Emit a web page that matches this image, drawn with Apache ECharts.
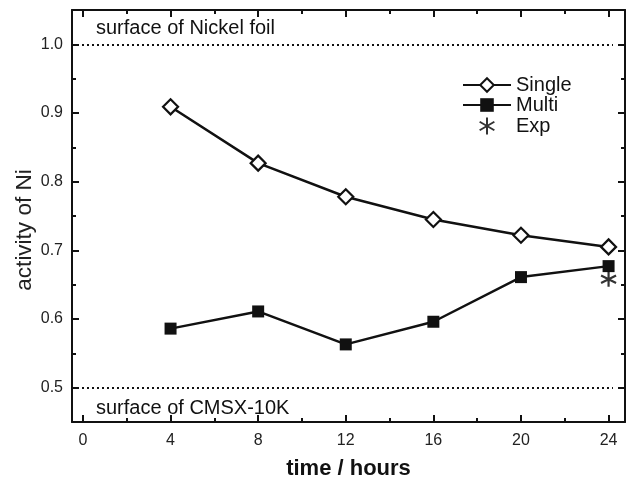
<!DOCTYPE html>
<html>
<head>
<meta charset="utf-8">
<script src="https://cdn.jsdelivr.net/npm/echarts@6/dist/echarts.min.js"></script>
<style>html,body{margin:0;padding:0;background:#fff}#c{width:628px;height:482px}</style>
</head>
<body>
<div id="c"></div>
<script>
var hours = [4, 8, 12, 16, 20, 24];
var singleVals = [0.909, 0.827, 0.778, 0.745, 0.722, 0.705];
var multiVals = [0.586, 0.611, 0.563, 0.596, 0.661, 0.677];
var expHours = [24];
var expVals = [0.658];
var xMajorTicks = [0, 4, 8, 12, 16, 20, 24];
var xMinorTicks = [2, 6, 10, 14, 18, 22];
var yMajorTicks = [0.5, 0.6, 0.7, 0.8, 0.9, 1.0];
var yMinorTicks = [0.55, 0.65, 0.75, 0.85, 0.95];
var refLevels = [1.0, 0.5];
var refLabels = ['surface of Nickel foil', 'surface of CMSX-10K'];
var yTitle = 'activity of Ni';
var xTitle = 'time / hours';

function zip(a, b) { return a.map(function (v, i) { return [v, b[i]]; }); }

var FONT = 'Liberation Sans, Arial, sans-serif';
var xMin = -0.5, xMax = 24.75, yMin = 0.45, yMax = 1.05;

function xAx(pos, vals, len, show, isMain) {
  return {
    type: 'value', position: pos, min: xMin, max: xMax,
    axisLine: { show: isMain, onZero: false, lineStyle: { color: '#111', width: 2 } },
    axisTick: { show: true, inside: true, length: len, customValues: vals, lineStyle: { color: '#111', width: 2 } },
    axisLabel: { show: show, customValues: vals, color: '#222', fontSize: 16, fontFamily: FONT, margin: 11 },
    splitLine: { show: false }
  };
}
function yAx(pos, vals, len, show, isMain) {
  return {
    type: 'value', position: pos, min: yMin, max: yMax,
    axisLine: { show: isMain, onZero: false, lineStyle: { color: '#111', width: 2 } },
    axisTick: { show: true, inside: true, length: len, customValues: vals, lineStyle: { color: '#111', width: 2 } },
    axisLabel: { show: show, customValues: vals, color: '#222', fontSize: 16, fontFamily: FONT, margin: 9,
      formatter: function (v) { return v.toFixed(1); } },
    splitLine: { show: false }
  };
}

var xAxes = [
  xAx('bottom', xMajorTicks, 7, true, true),
  xAx('bottom', xMinorTicks, 4, false, false),
  xAx('top', xMajorTicks, 7, false, true),
  xAx('top', xMinorTicks, 4, false, false)
];
xAxes[0].name = xTitle;
xAxes[0].nameLocation = 'middle';
xAxes[0].nameGap = 36;
xAxes[0].nameTextStyle = { fontSize: 22, fontWeight: 'bold', color: '#111', fontFamily: FONT };

var yAxes = [
  yAx('left', yMajorTicks, 7, true, true),
  yAx('left', yMinorTicks, 4, false, false),
  yAx('right', yMajorTicks, 7, false, true),
  yAx('right', yMinorTicks, 4, false, false)
];

var asterisk = 'path://M0,-10 L0,10 M-8.66,-5 L8.66,5 M-8.66,5 L8.66,-5';

var chart = echarts.init(document.getElementById('c'));
chart.setOption({
  animation: false,
  backgroundColor: '#fff',
  grid: { left: 72, right: 3, top: 10, bottom: 60, containLabel: false, outerBoundsMode: 'none' },
  xAxis: xAxes,
  yAxis: yAxes,
  legend: {
    orient: 'vertical', left: 457, top: 70,
    itemWidth: 48, itemHeight: 17, itemGap: 0,
    textStyle: { fontSize: 20, color: '#111', fontFamily: FONT, lineHeight: 20 },
    data: ['Single', 'Multi', 'Exp']
  },
  series: [
    {
      name: 'Single', type: 'line', data: zip(hours, singleVals),
      symbol: 'diamond', symbolSize: 15,
      lineStyle: { color: '#111', width: 2.5 },
      itemStyle: { color: '#fff', borderColor: '#111', borderWidth: 2.2 },
      z: 3,
      markLine: {
        silent: true, symbol: 'none', animation: false,
        lineStyle: { color: '#111', type: [2, 3], width: 2 },
        label: { show: false },
        data: refLevels.map(function (v) { return [{ coord: [xMin, v] }, { coord: [24.2, v] }]; })
      }
    },
    {
      name: 'Multi', type: 'line', data: zip(hours, multiVals),
      symbol: 'rect', symbolSize: 12,
      lineStyle: { color: '#111', width: 2.5 },
      itemStyle: { color: '#111', borderColor: '#111', borderWidth: 0 },
      z: 3
    },
    {
      name: 'Exp', type: 'scatter', data: zip(expHours, expVals),
      symbol: asterisk, symbolSize: 15,
      itemStyle: { color: 'none', borderColor: '#000', borderWidth: 2.2 },
      z: 4
    }
  ],
  graphic: [
    { type: 'text', left: 96, top: 18, style: { text: refLabels[0], fontSize: 20, fontFamily: FONT, fill: '#111' } },
    { type: 'text', left: 96, top: 398, style: { text: refLabels[1], fontSize: 20, fontFamily: FONT, fill: '#111' } },
    { type: 'text', x: 25, y: 230, rotation: Math.PI / 2,
      style: { text: yTitle, fontSize: 22.5, fontFamily: FONT, fill: '#222', align: 'center', verticalAlign: 'middle' } }
  ]
});
</script>
</body>
</html>
